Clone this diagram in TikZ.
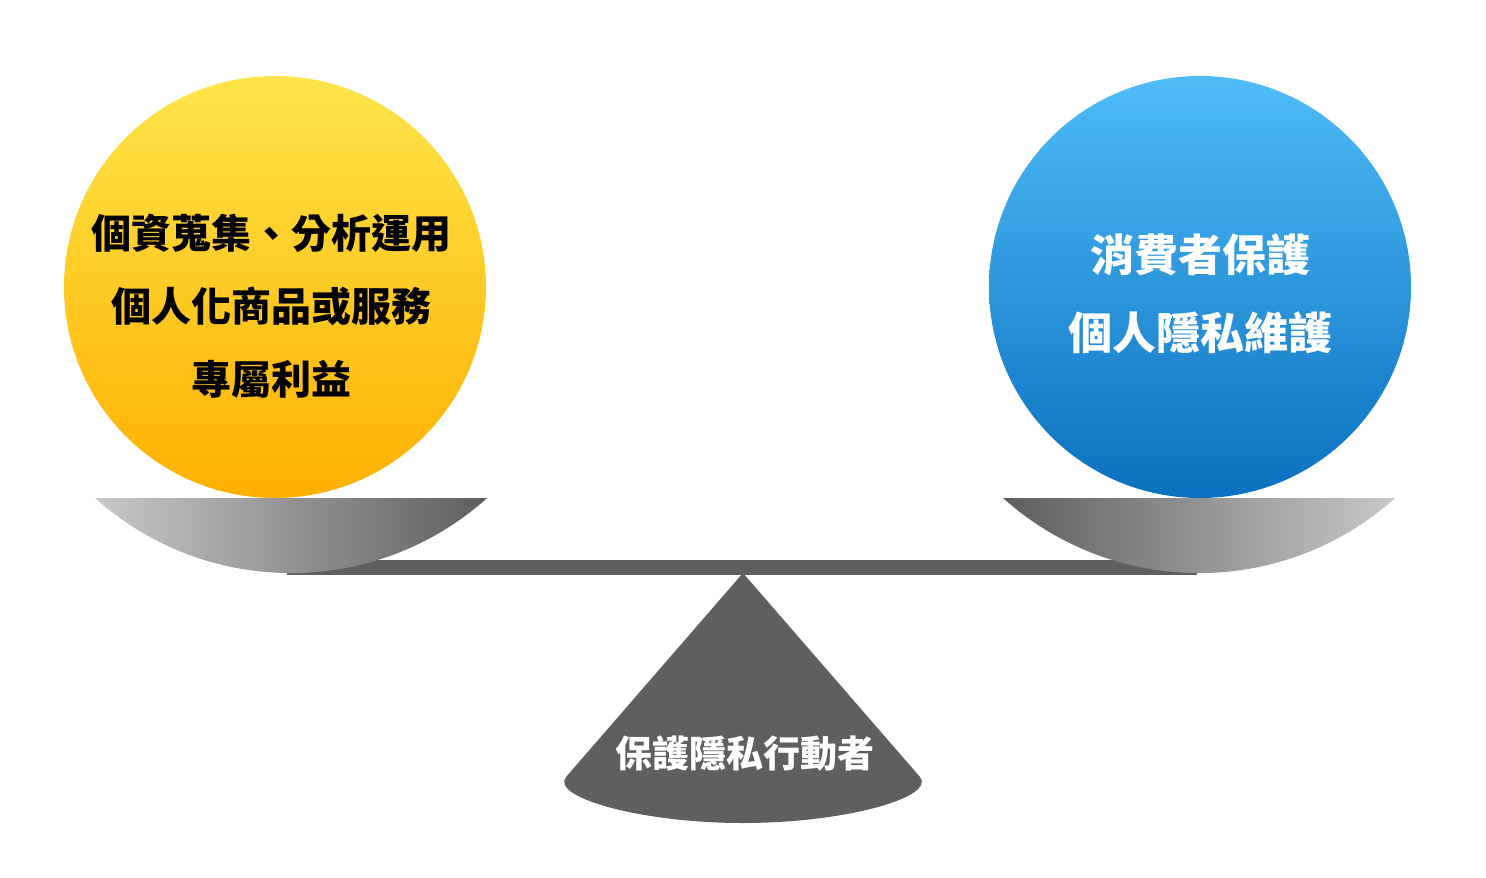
\documentclass[tikz,border=0pt]{standalone}
\usepackage{fontspec}
\newfontfamily\cjk{Noto Sans CJK TC}
\definecolor{ytop}{HTML}{FFE54A}
\definecolor{ybot}{HTML}{FFB000}
\definecolor{btop}{HTML}{4FBCF8}
\definecolor{bbot}{HTML}{0A70BF}
\definecolor{bowllight}{HTML}{C8C8C8}
\definecolor{bowldark}{HTML}{5E5E5E}
\definecolor{beamgray}{HTML}{5F5F5F}
\tikzset{
  ball/.style={circle, minimum size=422pt, inner sep=0pt, draw=none},
  lbl/.style={font=\cjk\bfseries, align=center, inner sep=0pt}
}
\begin{document}
\begin{tikzpicture}[x=1pt,y=-1pt]
\useasboundingbox (0,0) rectangle (1486,878);
\fill[white] (0,0) rectangle (1486,878);
% beam and fulcrum
\fill[beamgray] (287,560) rectangle (1197,575);
\fill[beamgray] (743,573) -- (566,777) .. controls (550,797) and (640,823) .. (743,823)
  .. controls (846,823) and (936,797) .. (920,777) -- cycle;
% bowls
\shade[left color=bowllight, right color=bowldark] (95,498) arc[start angle=131.9, end angle=48.1, radius=293.6] -- cycle;
\shade[left color=bowldark, right color=bowllight] (1003,498) arc[start angle=131.9, end angle=48.1, radius=293.6] -- cycle;
% balls
\node[ball, top color=ytop, bottom color=ybot] (lball) at (275,287) {};
\node[ball, top color=btop, bottom color=bbot] (rball) at (1200,287) {};
% texts
\node[lbl, text=black, font=\cjk\bfseries\fontsize{40}{73}\selectfont] (ltext) at (271,306) {個資蒐集、分析運用\\個人化商品或服務\\專屬利益};
\node[lbl, text=white, font=\cjk\bfseries\fontsize{44}{78}\selectfont] (rtext) at (1200,294) {消費者保護\\個人隱私維護};
\node[lbl, text=white, font=\cjk\bfseries\fontsize{37}{44}\selectfont] (ftext) at (745,754) {保護隱私行動者};
\end{tikzpicture}
\end{document}
